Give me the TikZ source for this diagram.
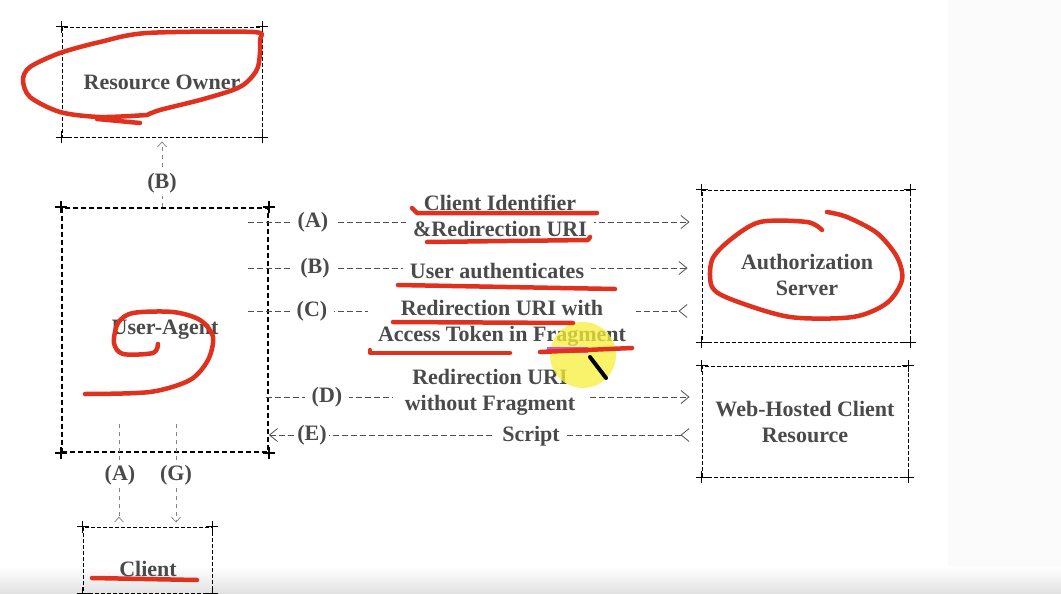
\documentclass[tikz,border=0pt]{standalone}
\usepackage{fontspec}
\setmainfont{Liberation Serif}
\usetikzlibrary{arrows.meta}
\definecolor{ink}{HTML}{4A4A4A}
\definecolor{dashgray}{HTML}{4F4F4F}
\definecolor{pen}{HTML}{E0301E}
\definecolor{hilite}{HTML}{F7F03A}
\definecolor{magenta2}{HTML}{D94FD6}
\tikzset{px/.style={x=1pt,y=-1pt,font=\fontsize{22}{26}\selectfont\bfseries},
  box/.style={draw,dash pattern=on 4pt off 2pt,line width=.9pt,text=ink,align=center,inner sep=0pt},
  flow/.style={draw=dashgray,line width=.8pt,dash pattern=on 6pt off 3pt,>={Straight Barb[length=8pt,width=13pt]}},
  vflow/.style={draw=dashgray!70,line width=.7pt,dash pattern=on 4pt off 4pt,>={Straight Barb[length=5pt,width=9pt]}},
  lbl/.style={fill=white,text=ink,align=center,inner xsep=7pt,inner ysep=3pt},
  scrib/.style={pen,line width=4.5pt,line cap=round,line join=round}}
\newcommand\pluscorners[2][1.4pt]{%
  \foreach \c in {north west,north east,south west,south east}
    \draw[line width=#1] ([xshift=-6pt]#2.\c) -- ([xshift=6pt]#2.\c)
      ([yshift=-6pt]#2.\c) -- ([yshift=6pt]#2.\c);}

\begin{document}
\begin{tikzpicture}[px]
  \useasboundingbox (0,0) rectangle (1061,594);
  \fill[white] (0,0) rectangle (1061,594);
  \fill[black!1.5] (948,0) rectangle (1061,594);
  \shade[top color=white,bottom color=black!12] (0,566) rectangle (1061,594);
  % boxes
  \node[box,minimum width=200pt,minimum height=110pt] (ro) at (162,82) {Resource Owner};
  \node[box,line width=1.8pt,dash pattern=on 5pt off 3pt,minimum width=206pt,minimum height=244pt] (ua) at (165,330) {User-Agent};
  \node[box,minimum width=208pt,minimum height=152pt] (as) at (806,266) {};
  \node[text=ink,align=center] (ast) at (807,275) {Authorization\\Server};
  \node[box,minimum width=206pt,minimum height=111pt] (wh) at (805,421.5) {Web-Hosted Client\\Resource};
  \node[box,minimum width=129pt,minimum height=66pt] (cl) at (147.5,560) {};
  \node[text=ink] (clt) at (148,569) {Client};
  \pluscorners{ro}\pluscorners[2.4pt]{ua}\pluscorners{as}\pluscorners{wh}\pluscorners[1pt]{cl}
  % flows between user-agent and servers
  \draw[flow,->,shorten <=-21pt,shorten >=12pt] (ua.east |- 0,222) -- (as.west |- 0,222);
  \draw[flow,->,shorten <=-21pt,shorten >=14pt] (ua.east |- 0,268) -- (as.west |- 0,268);
  \draw[flow,-<,shorten <=-21pt,shorten >=14pt] (ua.east |- 0,311) -- (as.west |- 0,311);
  \draw[flow,->,shorten <=-3pt,shorten >=12pt] (ua.east |- 0,397) -- (wh.west |- 0,397);
  \draw[flow,<-<,shorten >=12pt] (ua.east |- 0,435) -- (wh.west |- 0,435);
  \node[lbl] (la) at (313,222) {(A)};
  \node[lbl] (ta) at (500,216) {Client Identifier\\\&Redirection URI};
  \node[lbl] (lb) at (315,268) {(B)};
  \node[lbl] (tb) at (497,271) {User authenticates};
  \node[lbl] (lc) at (312,311) {(C)};
  \node[lbl,inner xsep=10pt] (tc) at (502,323) {Redirection URI with\\Access Token in Fragment};
  \node[lbl] (ld) at (327,397) {(D)};
  \node[lbl,inner xsep=12pt] (td) at (490,392) {Redirection URI\\without Fragment};
  \node[lbl,inner xsep=2pt] (le) at (312,435) {(E)};
  \node[lbl] (te) at (531,436) {Script};
  % resource owner and client links
  \draw[vflow,->,shorten >=4pt] (ua.north -| ro.south) -- (ro.south);
  \node[lbl] (vb) at (162,183) {(B)};
  \draw[vflow,-<,shorten <=-29pt,shorten >=4pt] (ua.south -| 119,0) -- (cl.north -| 119,0);
  \draw[vflow,->,shorten <=-29pt,shorten >=4pt] (ua.south -| 176,0) -- (cl.north -| 176,0);
  \node[lbl] (va) at (120,475) {(A)};
  \node[lbl] (vg) at (176,475) {(G)};
  % pen annotations
  \fill[hilite,opacity=.75] (583,355) circle (33);
  \fill[magenta2] (547,347) rectangle (588,353);
  \draw[scrib] plot[smooth] coordinates {(147,115) (100,117) (60,112) (30,97) (23,80) (30,67) (60,53) (100,42) (147,33) (253,32) (260,40) (258,67) (247,82) (233,90) (200,100) (160,110) (147,115)};
  \draw[scrib] (97,119) -- (140,123);
  \draw[scrib] plot[smooth] coordinates {(158,344) (153,353) (123,354) (114,343) (118,323) (133,313) (173,312) (200,320) (213,337) (208,360) (190,380) (150,392) (85,394)};
  \draw[scrib] plot[smooth] coordinates {(822,230) (807,222) (760,222) (730,240) (712,260) (712,287) (733,300) (790,317) (853,317) (887,303) (902,280) (897,257) (877,233) (847,217) (827,212)};
  \draw[scrib] (412,208) -- (417,213) -- (597,213);
  \draw[scrib] (427,242) -- (588,240) -- (590,237);
  \draw[scrib] (398,285) -- (615,289);
  \draw[scrib] (393,322) -- (573,323);
  \draw[scrib] (370,350) -- (370,353) -- (510,353);
  \draw[scrib] (540,352) -- (632,348);
  \draw[scrib] (92,578) -- (197,580);
  \draw[line width=4pt,line cap=round] (590,357) -- (606,378);
\end{tikzpicture}
\end{document}
